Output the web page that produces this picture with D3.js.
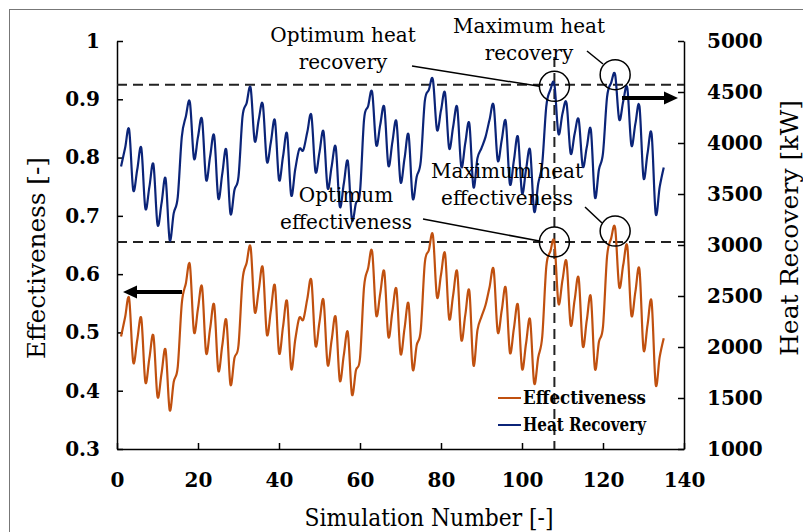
<!DOCTYPE html>
<html>
<head>
<meta charset="utf-8">
<script src="https://cdn.jsdelivr.net/npm/d3@7"></script>
<style>
body { margin: 0; background: #fff; }
svg { display: block; font-family: "DejaVu Serif", serif; }
</style>
</head>
<body>
<svg id="chart" width="803" height="532"></svg>
<script>
// simulation numbers 1..135
const SIM = d3.range(1, 136);

// heat recovery [kW]
const HEAT_RECOVERY = [
  3770, 3950, 4130, 3540, 3740, 3950, 3360, 3570, 3790, 3200,
  3410, 3650, 3050, 3310, 3470, 4060, 4260, 4400, 3850, 4060,
  4230, 3640, 3870, 4070, 3460, 3700, 3930, 3310, 3540, 3670,
  4260, 4390, 4540, 4020, 4230, 4380, 3820, 4010, 4220, 3640,
  3870, 4090, 3490, 3740, 3940, 3930, 4110, 4270, 3720, 3910,
  4110, 3560, 3770, 3960, 3380, 3600, 3820, 3250, 3410, 3520,
  4230, 4360, 4500, 3980, 4180, 4350, 3780, 4010, 4210, 3620,
  3850, 4080, 3460, 3670, 3820, 4410, 4520, 4620, 4130, 4320,
  4490, 3950, 4160, 4350, 3770, 4000, 4190, 3570, 3850, 3950,
  4060, 4230, 4370, 3830, 4030, 4210, 3600, 3830, 4060, 3510,
  3740, 3930, 3330, 3600, 3800, 4360, 4520, 4575, 4090, 4290,
  4390, 3900, 4090, 4230, 3770, 3960, 4130, 3470, 3740, 3900,
  4450, 4590, 4670, 4230, 4410, 4540, 3980, 4190, 4360, 3660,
  3900, 4090, 3310, 3570, 3760
];

// effectiveness [-]
const EFFECTIVENESS = [
  0.493, 0.526, 0.558, 0.449, 0.487, 0.524, 0.415, 0.456, 0.494, 0.390,
  0.430, 0.470, 0.367, 0.415, 0.441, 0.550, 0.584, 0.616, 0.501, 0.541,
  0.578, 0.465, 0.507, 0.547, 0.435, 0.478, 0.521, 0.411, 0.456, 0.478,
  0.590, 0.619, 0.646, 0.536, 0.573, 0.611, 0.497, 0.538, 0.580, 0.465,
  0.510, 0.553, 0.438, 0.487, 0.525, 0.522, 0.558, 0.589, 0.478, 0.518,
  0.555, 0.445, 0.487, 0.526, 0.418, 0.461, 0.500, 0.394, 0.435, 0.456,
  0.578, 0.610, 0.639, 0.530, 0.567, 0.604, 0.493, 0.536, 0.574, 0.464,
  0.507, 0.549, 0.437, 0.478, 0.504, 0.619, 0.641, 0.667, 0.561, 0.599,
  0.635, 0.524, 0.564, 0.604, 0.488, 0.530, 0.571, 0.444, 0.504, 0.527,
  0.547, 0.578, 0.608, 0.501, 0.538, 0.576, 0.466, 0.507, 0.547, 0.438,
  0.481, 0.522, 0.413, 0.457, 0.493, 0.613, 0.639, 0.655, 0.550, 0.590,
  0.621, 0.513, 0.556, 0.593, 0.477, 0.521, 0.561, 0.438, 0.484, 0.510,
  0.630, 0.661, 0.679, 0.578, 0.616, 0.648, 0.530, 0.570, 0.608, 0.471,
  0.513, 0.553, 0.411, 0.458, 0.490
];

const X_TICKS = [0, 20, 40, 60, 80, 100, 120, 140];
const EFF_TICKS = [0.3, 0.4, 0.5, 0.6, 0.7, 0.8, 0.9, 1];
const HR_TICKS = [1000, 1500, 2000, 2500, 3000, 3500, 4000, 4500, 5000];

const OPT_SIM = 108;      // optimum simulation
const MAX_SIM = 123;      // maximum simulation
const OPT_HR = 4570;
const OPT_EFF = 0.655;

const ORANGE = '#c0500f';
const BLUE = '#0b2478';

const svg = d3.select('#chart');

// outer frame of the figure (cut at right and bottom)
svg.append('rect')
  .attr('x', 9.5).attr('y', 9.5)
  .attr('width', 900).attr('height', 700)
  .attr('fill', 'none').attr('stroke', '#777').attr('stroke-width', 1);

const x = d3.scaleLinear().domain([0, 140]).range([117, 684]);
const yL = d3.scaleLinear().domain([0.3, 1]).range([449, 41]);
const yR = d3.scaleLinear().domain([1000, 5000]).range([449, 41]);

function styleAxis(g) {
  g.selectAll('path').attr('stroke', '#000').attr('stroke-width', 1.5);
  g.selectAll('line').attr('stroke', '#000').attr('stroke-width', 1.5);
  g.selectAll('text')
    .attr('fill', '#000')
    .style('font-family', '"DejaVu Serif", serif')
    .style('font-weight', 'bold')
    .style('font-size', '20px');
}

// x axis
svg.append('g')
  .attr('transform', 'translate(0,449)')
  .call(d3.axisBottom(x).tickValues(X_TICKS).tickSizeInner(-6).tickSizeOuter(0).tickPadding(24))
  .call(styleAxis);

// left axis
svg.append('g')
  .attr('transform', 'translate(117,0)')
  .call(d3.axisLeft(yL).tickValues(EFF_TICKS).tickSizeInner(-6).tickSizeOuter(0).tickPadding(17)
    .tickFormat(d => d === 1 ? '1' : d3.format('.1f')(d)))
  .call(styleAxis);

// right axis
svg.append('g')
  .attr('transform', 'translate(684,0)')
  .call(d3.axisRight(yR).tickValues(HR_TICKS).tickSizeInner(-6).tickSizeOuter(0).tickPadding(23)
    .tickFormat(d3.format('d')))
  .call(styleAxis);

// axis titles
svg.append('text')
  .attr('x', 429).attr('y', 526)
  .attr('text-anchor', 'middle')
  .attr('textLength', 249).attr('lengthAdjust', 'spacingAndGlyphs')
  .style('font-size', '24px')
  .text('Simulation Number [-]');

svg.append('text')
  .attr('transform', 'translate(45,258) rotate(-90)')
  .attr('text-anchor', 'middle')
  .attr('textLength', 202).attr('lengthAdjust', 'spacingAndGlyphs')
  .style('font-size', '24px')
  .text('Effectiveness [-]');

svg.append('text')
  .attr('transform', 'translate(798,228) rotate(-90)')
  .attr('text-anchor', 'middle')
  .attr('textLength', 256).attr('lengthAdjust', 'spacingAndGlyphs')
  .style('font-size', '24px')
  .text('Heat Recovery [kW]');

// dashed reference lines
const dash = svg.append('g')
  .attr('stroke', '#222').attr('stroke-width', 2).attr('stroke-dasharray', '10,6');
dash.append('line')
  .attr('x1', x(0)).attr('x2', x(140))
  .attr('y1', yR(OPT_HR)).attr('y2', yR(OPT_HR));
dash.append('line')
  .attr('x1', x(0)).attr('x2', x(140))
  .attr('y1', yL(OPT_EFF)).attr('y2', yL(OPT_EFF));
dash.append('line')
  .attr('x1', x(OPT_SIM)).attr('x2', x(OPT_SIM))
  .attr('y1', 57).attr('y2', 449);

// series (Excel-like smoothed lines)
const lineHR = d3.line()
  .x((d, i) => x(SIM[i]))
  .y(d => yR(d))
  .curve(d3.curveCardinal.tension(0));

const lineEff = d3.line()
  .x((d, i) => x(SIM[i]))
  .y(d => yL(d))
  .curve(d3.curveCardinal.tension(0));

svg.append('path')
  .datum(HEAT_RECOVERY)
  .attr('d', lineHR)
  .attr('fill', 'none').attr('stroke', BLUE).attr('stroke-width', 2.2);

svg.append('path')
  .datum(EFFECTIVENESS)
  .attr('d', lineEff)
  .attr('fill', 'none').attr('stroke', ORANGE).attr('stroke-width', 2.2);

// circles round the optimum / maximum points
const marks = [
  [x(OPT_SIM), yR(HEAT_RECOVERY[OPT_SIM - 1]) + 2],
  [x(MAX_SIM), yR(HEAT_RECOVERY[MAX_SIM - 1])],
  [x(OPT_SIM), yL(EFFECTIVENESS[OPT_SIM - 1])],
  [x(MAX_SIM), yL(EFFECTIVENESS[MAX_SIM - 1]) + 3]
];
svg.append('g')
  .selectAll('circle')
  .data(marks)
  .enter().append('circle')
  .attr('cx', d => d[0]).attr('cy', d => d[1])
  .attr('r', 15)
  .attr('fill', 'none').attr('stroke', '#000').attr('stroke-width', 1.5);

// leader lines
const leaders = [
  [412, 66, marks[0][0] - 15, marks[0][1]],
  [587, 51, 603, 64],
  [423, 219, marks[2][0] - 15, marks[2][1] - 1],
  [585, 207, 602, 223]
];
svg.append('g')
  .selectAll('line')
  .data(leaders)
  .enter().append('line')
  .attr('x1', d => d[0]).attr('y1', d => d[1])
  .attr('x2', d => d[2]).attr('y2', d => d[3])
  .attr('stroke', '#000').attr('stroke-width', 1.5);

// annotation texts
const notes = [
  { x: 343, y: 42, lines: ['Optimum heat', 'recovery'] },
  { x: 529, y: 33, lines: ['Maximum heat', 'recovery'] },
  { x: 346, y: 202, lines: ['Optimum', 'effectiveness'] },
  { x: 507, y: 178, lines: ['Maximum heat', 'effectiveness'] }
];
notes.forEach(n => {
  const t = svg.append('text')
    .attr('text-anchor', 'middle')
    .style('font-size', '20px');
  n.lines.forEach((s, i) => {
    t.append('tspan').attr('x', n.x).attr('y', n.y + i * 27).text(s);
  });
});

// arrows pointing to the axes
function arrow(x1, x2, y) {
  const dir = Math.sign(x2 - x1);
  svg.append('line')
    .attr('x1', x1).attr('x2', x2 - dir * 12)
    .attr('y1', y).attr('y2', y)
    .attr('stroke', '#000').attr('stroke-width', 4);
  svg.append('path')
    .attr('d', `M${x2},${y} L${x2 - dir * 14},${y - 6.5} L${x2 - dir * 14},${y + 6.5} Z`)
    .attr('fill', '#000');
}
arrow(182, 123, 292);
arrow(622, 678, 98);

// legend
const legend = [
  { name: 'Effectiveness', color: ORANGE, y: 398 },
  { name: 'Heat Recovery', color: BLUE, y: 425 }
];
legend.forEach(l => {
  svg.append('line')
    .attr('x1', 498).attr('x2', 521)
    .attr('y1', l.y).attr('y2', l.y)
    .attr('stroke', l.color).attr('stroke-width', 2);
  svg.append('text')
    .attr('x', 523).attr('y', l.y + 6)
    .attr('textLength', 123).attr('lengthAdjust', 'spacingAndGlyphs')
    .style('font-size', '18px')
    .style('font-weight', 'bold')
    .text(l.name);
});
</script>
</body>
</html>
